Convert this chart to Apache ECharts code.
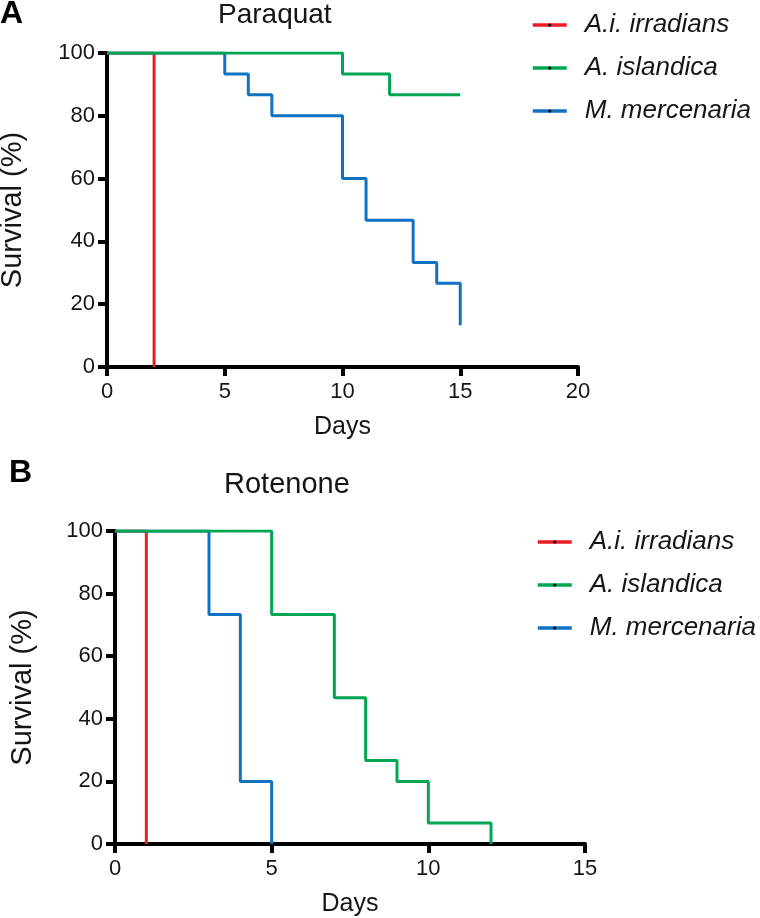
<!DOCTYPE html>
<html>
<head>
<meta charset="utf-8">
<script src="https://cdn.jsdelivr.net/npm/echarts@6/dist/echarts.min.js"></script>
<style>html,body{margin:0;padding:0;background:#fff}#c{width:760px;height:918px}</style>
</head>
<body>
<div id="c"></div>
<script>
// ---- Data ----
var speciesNames = ['A.i. irradians', 'A. islandica', 'M. mercenaria'];
var speciesColors = ['#ED1C24', '#00A651', '#1172C4'];

// Panel A: Paraquat
var paraquatIrrDays = [0, 2];
var paraquatIrrSurv = [100, 0];
var paraquatIslDays = [0, 10, 12, 15];
var paraquatIslSurv = [100, 93.3, 86.7, 86.7];
var paraquatMerDays = [0, 5, 6, 7, 10, 11, 13, 14, 15];
var paraquatMerSurv = [100, 93.3, 86.7, 80, 60, 46.7, 33.3, 26.7, 13.3];

// Panel B: Rotenone
var rotenoneIrrDays = [0, 1];
var rotenoneIrrSurv = [100, 0];
var rotenoneIslDays = [0, 5, 7, 8, 9, 10, 12];
var rotenoneIslSurv = [100, 73.3, 46.7, 26.7, 20, 6.7, 0];
var rotenoneMerDays = [0, 3, 4, 5];
var rotenoneMerSurv = [100, 73.3, 20, 0];

var yTicks = [0, 20, 40, 60, 80, 100];

function pairs(xs, ys) { return xs.map(function (x, i) { return [x, ys[i]]; }); }

var FONT = '"Liberation Sans", Arial, sans-serif';
var TXT = '#151515';

function axisCommon() {
  return {
    axisLine: { show: true, onZero: false, lineStyle: { color: '#000', width: 4 } },
    axisTick: { show: true, inside: false, length: 9, lineStyle: { color: '#000', width: 4 } },
    splitLine: { show: false },
    axisLabel: { color: TXT, fontFamily: FONT, fontSize: 22 },
    nameTextStyle: { color: TXT, fontFamily: FONT },
    nameLocation: 'middle'
  };
}

function xAx(gi, max) {
  var a = axisCommon();
  a.type = 'value'; a.gridIndex = gi; a.min = 0; a.max = max; a.interval = 5;
  a.name = 'Days'; a.nameGap = 48; a.nameTextStyle.fontSize = 25;
  a.axisLabel.margin = 14;
  return a;
}
function yAx(gi, gap) {
  var a = axisCommon();
  a.type = 'value'; a.gridIndex = gi; a.min = 0; a.max = 100; a.interval = 20;
  a.name = 'Survival (%)'; a.nameGap = gap; a.nameRotate = 90; a.nameTextStyle.fontSize = 29;
  a.axisLabel.margin = 12;
  return a;
}

function ser(name, color, xi, data, z) {
  return {
    type: 'line', name: name, xAxisIndex: xi, yAxisIndex: xi,
    step: 'end', data: data, showSymbol: false, symbol: 'circle', symbolSize: 4,
    lineStyle: { color: color, width: 3 }, itemStyle: { color: color },
    z: z, animation: false, silent: true
  };
}

function legendAt(left, top) {
  return {
    data: speciesNames, orient: 'vertical', left: left, top: top, padding: 0,
    itemWidth: 34, itemHeight: 4, itemGap: 17,
    itemStyle: { color: '#000', borderWidth: 0 },
    lineStyle: { width: 3.5 },
    textStyle: { fontFamily: FONT, fontSize: 26, fontStyle: 'italic', color: TXT, padding: [0, 0, 0, 13] },
    selectedMode: false
  };
}

var option = {
  backgroundColor: '#fff',
  animation: false,
  color: speciesColors,
  title: [
    { text: 'Paraquat', left: 218, top: 1, padding: 0, textStyle: { fontFamily: FONT, fontSize: 28, fontWeight: 'normal', color: TXT } },
    { text: 'Rotenone', left: 224, top: 470, padding: 0, textStyle: { fontFamily: FONT, fontSize: 29, fontWeight: 'normal', color: TXT } },
    { text: 'A', left: 0, top: -2, padding: 0, textStyle: { fontFamily: FONT, fontSize: 32, fontWeight: 'bold', color: '#000' } },
    { text: 'B', left: 9, top: 457, padding: 0, textStyle: { fontFamily: FONT, fontSize: 32, fontWeight: 'bold', color: '#000' } }
  ],
  legend: [legendAt(531, 12), legendAt(536, 529)],
  grid: [
    { left: 107, top: 53, width: 471, height: 314, containLabel: false, outerBoundsMode: 'none' },
    { left: 115, top: 531, width: 470, height: 313, containLabel: false, outerBoundsMode: 'none' }
  ],
  xAxis: [xAx(0, 20), xAx(1, 15)],
  yAxis: [yAx(0, 80), yAx(1, 78)],
  series: [
    ser(speciesNames[0], speciesColors[0], 0, pairs(paraquatIrrDays, paraquatIrrSurv), 2),
    ser(speciesNames[2], speciesColors[2], 0, pairs(paraquatMerDays, paraquatMerSurv), 3),
    ser(speciesNames[1], speciesColors[1], 0, pairs(paraquatIslDays, paraquatIslSurv), 4),
    ser(speciesNames[0], speciesColors[0], 1, pairs(rotenoneIrrDays, rotenoneIrrSurv), 2),
    ser(speciesNames[2], speciesColors[2], 1, pairs(rotenoneMerDays, rotenoneMerSurv), 3),
    ser(speciesNames[1], speciesColors[1], 1, pairs(rotenoneIslDays, rotenoneIslSurv), 4)
  ]
};

var chart = echarts.init(document.getElementById('c'), null, { renderer: 'canvas' });
chart.setOption(option);
</script>
</body>
</html>
